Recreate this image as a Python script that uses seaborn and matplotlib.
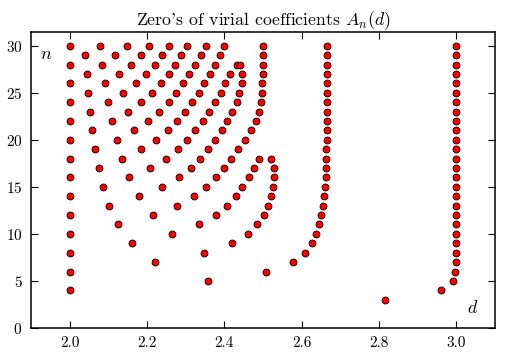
import pandas as pd
import matplotlib
matplotlib.use("Agg")
import matplotlib.pyplot as plt
import seaborn as sns

# zeros d of A_n(d), one list per order n
row_30 = [2.000, 2.078, 2.148, 2.206, 2.256, 2.305, 2.354, 2.399, 2.500, 2.666, 2.999]
row_29 = [2.041, 2.118, 2.185, 2.239, 2.289, 2.340, 2.389, 2.500, 2.666, 2.999]
row_28 = [2.000, 2.084, 2.159, 2.221, 2.273, 2.325, 2.377, 2.433, 2.442, 2.500, 2.666, 2.999]
row_27 = [2.045, 2.128, 2.197, 2.256, 2.310, 2.364, 2.416, 2.446, 2.500, 2.666, 2.999]
row_26 = [2.000, 2.091, 2.171, 2.237, 2.293, 2.349, 2.403, 2.445, 2.499, 2.666, 2.999]
row_25 = [2.049, 2.138, 2.214, 2.275, 2.334, 2.391, 2.439, 2.499, 2.666, 2.999]
row_24 = [2.000, 2.100, 2.185, 2.256, 2.317, 2.377, 2.432, 2.496, 2.666, 2.999]
row_23 = [2.053, 2.151, 2.232, 2.299, 2.361, 2.421, 2.491, 2.666, 2.999]
row_22 = [2.000, 2.109, 2.203, 2.278, 2.344, 2.408, 2.483, 2.666, 2.999]
row_21 = [2.059, 2.167, 2.254, 2.325, 2.394, 2.469, 2.666, 2.999]
row_20 = [2.000, 2.122, 2.223, 2.305, 2.377, 2.453, 2.665, 2.999]
row_19 = [2.066, 2.185, 2.280, 2.358, 2.435, 2.664, 2.999]
row_18 = [2.000, 2.136, 2.249, 2.338, 2.417, 2.489, 2.522, 2.663, 2.999]
row_17 = [2.076, 2.208, 2.313, 2.399, 2.476, 2.528, 2.663, 2.999]
row_16 = [2.000, 2.155, 2.282, 2.379, 2.463, 2.529, 2.663, 2.999]
row_15 = [2.087, 2.239, 2.354, 2.447, 2.526, 2.661, 2.999]
row_14 = [2.000, 2.180, 2.322, 2.430, 2.521, 2.659, 2.999]
row_13 = [2.103, 2.278, 2.408, 2.513, 2.655, 2.999]
row_12 = [2.000, 2.215, 2.378, 2.502, 2.650, 2.999]
row_11 = [2.125, 2.334, 2.485, 2.645, 2.999]
row_10 = [2.000, 2.265, 2.461, 2.638, 2.999]
row_9 = [2.161, 2.419, 2.627, 2.999]
row_8 = [2.000, 2.347, 2.608, 2.999]
row_7 = [2.222, 2.577, 2.999]
row_6 = [2.000, 2.508, 2.998]
row_5 = [2.357, 2.992]
row_4 = [2.000, 2.961]
row_3 = [2.817]

rows = {30: row_30, 29: row_29, 28: row_28, 27: row_27, 26: row_26, 25: row_25,
        24: row_24, 23: row_23, 22: row_22, 21: row_21, 20: row_20, 19: row_19,
        18: row_18, 17: row_17, 16: row_16, 15: row_15, 14: row_14, 13: row_13,
        12: row_12, 11: row_11, 10: row_10, 9: row_9, 8: row_8, 7: row_7,
        6: row_6, 5: row_5, 4: row_4, 3: row_3}

df = pd.DataFrame([(n, d) for n, ds in rows.items() for d in ds], columns=["n", "d"])

plt.rcParams.update({
    "font.family": "cmr10",
    "mathtext.fontset": "cm",
    "axes.formatter.use_mathtext": True,
    "axes.linewidth": 1.1,
    "xtick.direction": "in",
    "ytick.direction": "in",
    "xtick.top": True,
    "ytick.right": True,
    "xtick.major.size": 5,
    "ytick.major.size": 5,
    "xtick.major.pad": 6,
    "ytick.major.pad": 6,
})

fig = plt.figure(figsize=(5.06, 3.58), dpi=100)
ax = fig.add_axes([0.061, 0.084, 0.917, 0.8275])

sns.scatterplot(data=df, x="d", y="n", color="red", edgecolor="black",
                s=25, linewidth=0.6, legend=False, ax=ax)

ax.set_xlim(1.9, 3.1)
ax.set_ylim(0, 31.5)
ax.set_xticks([2.0, 2.2, 2.4, 2.6, 2.8, 3.0])
ax.set_xticklabels(["2.0", "2.2", "2.4", "2.6", "2.8", "3.0"])
ax.set_yticks([0, 5, 10, 15, 20, 25, 30])
ax.tick_params(labelsize=11)
ax.set_xlabel("")
ax.set_ylabel("")
ax.set_title("Zero's of virial coefficients $A_n(d)$", fontsize=12.8, pad=5)
ax.text(0.032, 0.925, "$n$", transform=ax.transAxes, fontsize=13, ha="center", va="center")
ax.text(0.952, 0.07, "$d$", transform=ax.transAxes, fontsize=13, ha="center", va="center")

fig.savefig("out.png", dpi=100)
